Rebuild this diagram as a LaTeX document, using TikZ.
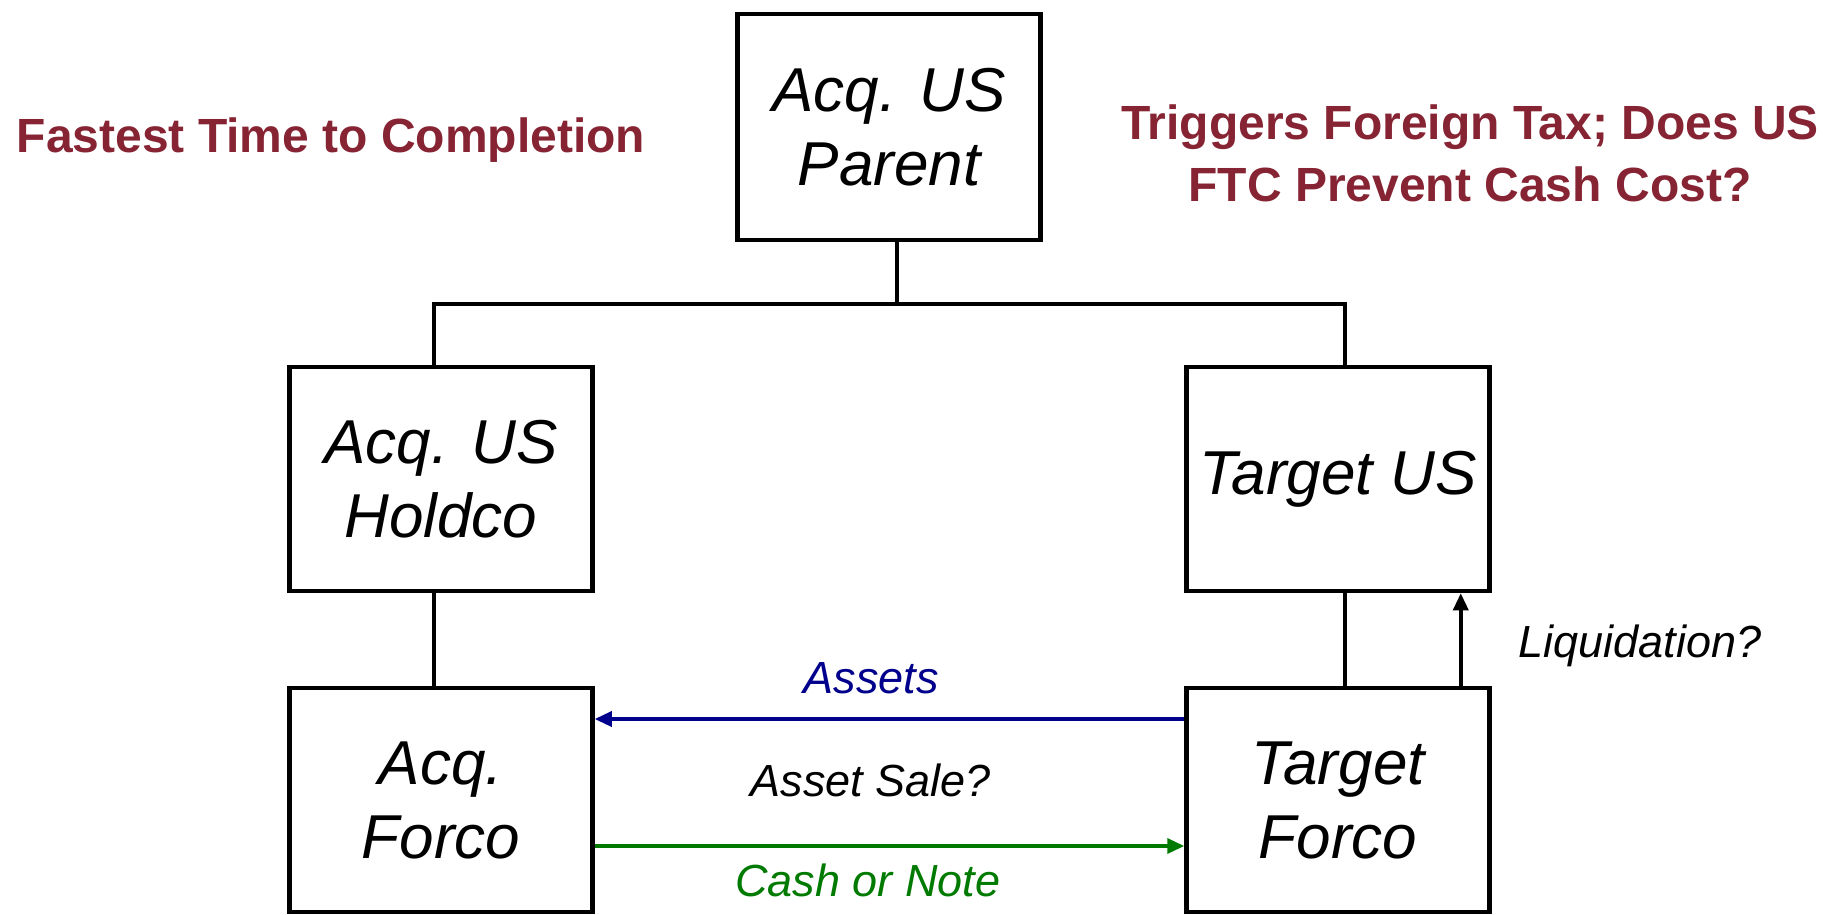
\documentclass[tikz,border=0pt]{standalone}
\usepackage{fontspec}
\setmainfont{Liberation Sans}
\usetikzlibrary{arrows.meta}
\definecolor{note}{RGB}{134,36,52}
\definecolor{assetblue}{RGB}{0,0,140}
\definecolor{cashgreen}{RGB}{0,122,0}
\tikzstyle{entity}=[draw, line width=4.5pt, minimum width=303pt, align=center,
  font=\fontsize{62}{74}\selectfont\itshape]
\tikzstyle{link}=[line width=3.5pt]
\tikzstyle{flow}=[line width=3.5pt, -{Triangle[length=17pt,width=15pt]}]
\tikzstyle{label}=[font=\fontsize{45}{54}\selectfont\itshape]
\tikzstyle{remark}=[text=note, align=center, font=\fontsize{48}{62}\selectfont\bfseries]

\begin{document}
\begin{tikzpicture}[x=1pt, y=-1pt]
          \useasboundingbox (0, 0) rectangle (1839, 914);
          % owners
          \node[entity, minimum height=226pt] (parent) at (889, 127) {Acq. US\\Parent};
          \node[entity, minimum height=224pt] (holdco) at (441, 479) {Acq. US\\Holdco};
          \node[entity, minimum height=224pt] (targetus) at (1338, 479) {Target US};
          % subsidiaries
          \node[entity, minimum height=224pt] (acqforco) at (441, 800) {Acq.\\Forco};
          \node[entity, minimum height=224pt] (targetforco) at (1338, 800) {Target\\Forco};
          \coordinate (bus) at (897, 304);
          \draw[link] ([xshift=8pt]parent.south) -- (bus);
          \draw[link] ([xshift=-7pt]holdco.north) |- (bus) -| ([xshift=7pt]targetus.north);
          \draw[link] ([xshift=-7pt]holdco.south) -- ([xshift=-7pt]acqforco.north);
          \draw[link] ([xshift=7pt]targetus.south) -- ([xshift=7pt]targetforco.north);
          % sale of the assets
          \draw[flow, assetblue] ([yshift=81pt]targetforco.west) -- ([yshift=81pt]acqforco.east);
          \draw[flow, cashgreen] ([yshift=-46pt]acqforco.east) -- ([yshift=-46pt]targetforco.west);
          \draw[flow] ([xshift=-31pt]targetforco.north east) -- ([xshift=-31pt]targetus.south east);
          \node[label, text=assetblue] (assets) at (871, 678) {Assets};
          \node[label] (sale) at (871, 780) {Asset Sale?};
          \node[label, text=cashgreen] (cash) at (868, 880) {Cash or Note};
          \node[label] (liquidation) at (1640, 646) {Liquidation?};
          \node[remark] (fastest) at (331, 140) {Fastest Time to Completion};
          \node[remark] (foreign) at (1470, 153) {Triggers Foreign Tax; Does US\\FTC Prevent Cash Cost?};
        \end{tikzpicture}
\end{document}
